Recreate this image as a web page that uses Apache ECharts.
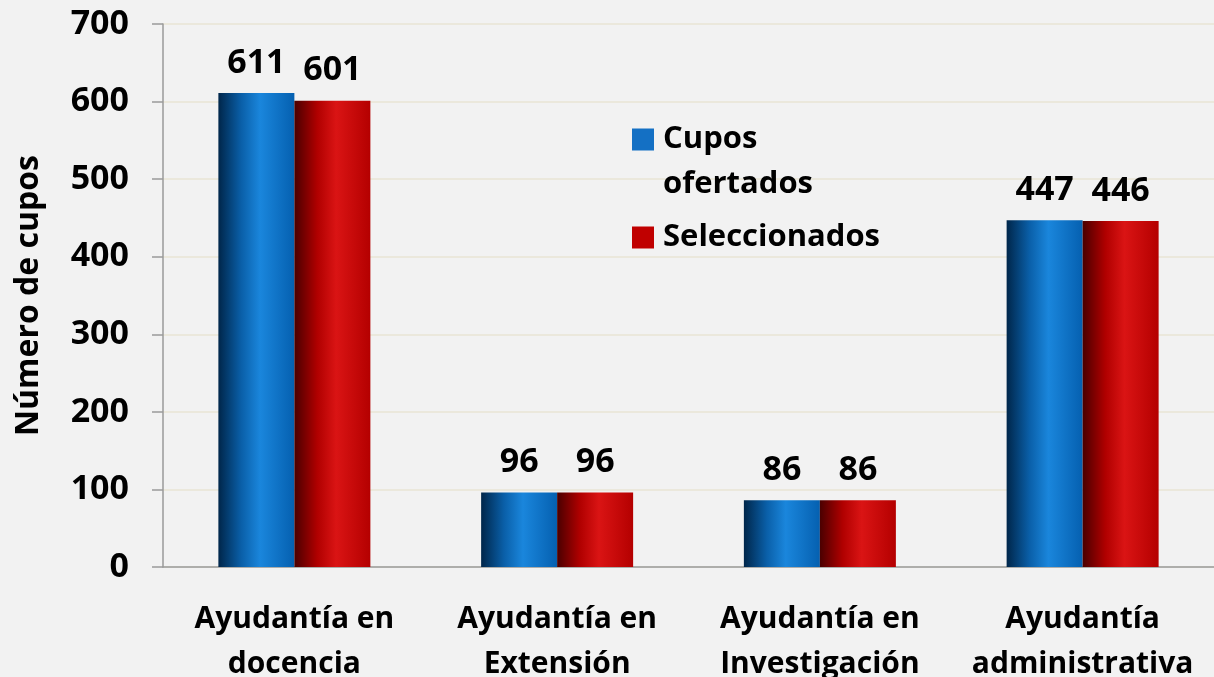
<!DOCTYPE html>
<html>
<head>
<meta charset="UTF-8">
<title>Número de cupos</title>
<script src="https://cdn.jsdelivr.net/npm/echarts@6/dist/echarts.min.js"></script>
<style>
  html, body { margin: 0; padding: 0; background: #f2f2f2; }
  #chart { width: 1214px; height: 677px; }
</style>
</head>
<body>
<div id="chart"></div>
<script>
// datos
var categorias = ['Ayudantía en\ndocencia', 'Ayudantía en\nExtensión', 'Ayudantía en\nInvestigación', 'Ayudantía\nadministrativa'];
var cuposOfertados = [611, 96, 86, 447];
var seleccionados = [601, 96, 86, 446];

var fuente = 'Open Sans';

// degradado horizontal tipo cilindro
function degradado(c0, c1, c2, c3) {
    return {
        type: 'linear', x: 0, y: 0, x2: 1, y2: 0,
        colorStops: [
            { offset: 0, color: c0 },
            { offset: 0.3, color: c1 },
            { offset: 0.55, color: c2 },
            { offset: 1, color: c3 }
        ]
    };
}

var chart = echarts.init(document.getElementById('chart'));

var etiqueta = {
    show: true,
    position: 'top',
    distance: 13,
    color: '#000',
    fontFamily: fuente,
    fontWeight: 'bold',
    fontSize: 34
};

var option = {
    backgroundColor: '#f2f2f2',
    animation: false,
    grid: { left: 163, top: 24, width: 1051, height: 543, outerBoundsMode: 'none' },
    legend: {
        orient: 'vertical',
        left: 632,
        top: 72,
        padding: 0,
        itemGap: 8,
        itemWidth: 22,
        itemHeight: 22,
        icon: 'rect',
        textStyle: {
            color: '#000',
            fontFamily: fuente,
            fontWeight: 'bold',
            fontSize: 31,
            lineHeight: 45,
            padding: [0, 0, 0, 4]
        },
        formatter: function (name) {
            // línea vacía para que el cuadro quede a la altura de la primera línea
            return name === 'Cupos ofertados' ? '\nCupos\nofertados' : name;
        },
        data: [
            { name: 'Cupos ofertados', itemStyle: { color: '#1470c4' } },
            { name: 'Seleccionados', itemStyle: { color: '#c00000' } }
        ]
    },
    xAxis: {
        type: 'category',
        data: categorias,
        axisLine: { lineStyle: { color: '#9a9a9a', width: 1.5 } },
        axisTick: { length: 11, lineStyle: { color: '#9a9a9a', width: 1.5 } },
        axisLabel: {
            interval: 0,
            margin: 30,
            color: '#000',
            fontFamily: fuente,
            fontWeight: 'bold',
            fontSize: 30,
            lineHeight: 45
        }
    },
    yAxis: {
        type: 'value',
        min: 0,
        max: 700,
        interval: 100,
        name: 'Número de cupos',
        nameLocation: 'middle',
        nameGap: 118,
        nameTextStyle: {
            color: '#000',
            fontFamily: fuente,
            fontWeight: 'bold',
            fontSize: 32
        },
        axisLine: { show: true, lineStyle: { color: '#9a9a9a', width: 1.5 } },
        axisTick: { show: true, length: 11, lineStyle: { color: '#9a9a9a', width: 1.5 } },
        splitLine: { lineStyle: { color: '#e8e5d4', width: 1.5 } },
        axisLabel: {
            margin: 34,
            color: '#000',
            fontFamily: fuente,
            fontWeight: 'bold',
            fontSize: 34
        }
    },
    series: [
        {
            name: 'Cupos ofertados',
            type: 'bar',
            barWidth: 76,
            barGap: 0,
            data: cuposOfertados,
            itemStyle: { color: degradado('#00264a', '#0a5fa8', '#1a86dc', '#0560b0') },
            label: etiqueta
        },
        {
            name: 'Seleccionados',
            type: 'bar',
            barWidth: 76,
            barGap: 0,
            data: seleccionados,
            itemStyle: { color: degradado('#4a0000', '#b00000', '#da1414', '#b40000') },
            label: etiqueta
        }
    ]
};

chart.setOption(option);
</script>
</body>
</html>
